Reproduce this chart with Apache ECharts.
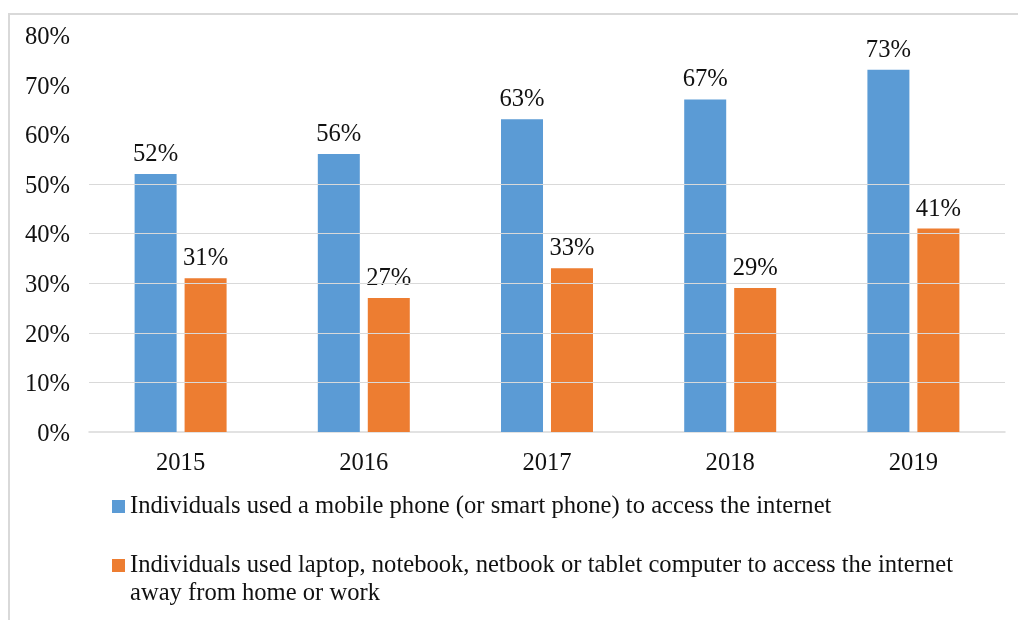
<!DOCTYPE html>
<html>
<head>
<meta charset="utf-8">
<script src="https://cdn.jsdelivr.net/npm/echarts@6/dist/echarts.min.js"></script>
<style>
html,body{margin:0;padding:0;background:#fff;}
#chart{width:1018px;height:620px;}
</style>
</head>
<body>
<div id="chart"></div>
<script>
const categories = ['2015', '2016', '2017', '2018', '2019'];
const mobileValues = [52, 56, 63, 67, 73];
const laptopValues = [31, 27, 33, 29, 41];
const seriesNames = [
  'Individuals used a mobile phone (or smart phone) to access the internet',
  'Individuals used laptop, notebook, netbook or tablet computer to access the internet away from home or work'
];
const laptopLegendLines = [
  'Individuals used laptop, notebook, netbook or tablet computer to access the internet',
  'away from home or work'
];
// gridlines visible in the reference (upper ones are absent)
const gridlineValues = [10, 20, 30, 40, 50];

const FONT = "'Liberation Serif', 'Times New Roman', serif";
const FS = 24.6;
const TXT = '#111';
const GRID = '#d9d9d9';

const chart = echarts.init(document.getElementById('chart'), null, {renderer: 'canvas'});

chart.setOption({
  animation: false,
  backgroundColor: '#fff',
  textStyle: {fontFamily: FONT, color: TXT},
  graphic: [{
    type: 'rect',
    shape: {x: 9, y: 14, width: 1040, height: 700},
    style: {fill: 'none', stroke: GRID, lineWidth: 2},
    silent: true,
    z: -1
  }],
  grid: {left: 89, right: 13, top: 35, bottom: 188, containLabel: false},
  legend: [{
    data: [seriesNames[0]],
    orient: 'vertical',
    left: 112, top: 490,
    padding: 0,
    itemWidth: 13, itemHeight: 13, itemGap: 0, textGap: 5,
    icon: 'rect',
    selectedMode: false,
    textStyle: {fontFamily: FONT, fontSize: FS, color: TXT, lineHeight: 28, padding: [5, 0, 0, 0]}
  }, {
    data: [seriesNames[1]],
    orient: 'vertical',
    left: 112, top: 521,
    padding: 0,
    itemWidth: 13, itemHeight: 13, itemGap: 0, textGap: 5,
    icon: 'rect',
    selectedMode: false,
    formatter: function () { return '\n' + laptopLegendLines.join('\n'); },
    textStyle: {fontFamily: FONT, fontSize: FS, color: TXT, lineHeight: 28, padding: [5, 0, 0, 0]}
  }],
  xAxis: {
    type: 'category',
    data: categories,
    axisLine: {show: true, lineStyle: {color: GRID, width: 1.5}},
    axisTick: {show: false},
    axisLabel: {fontFamily: FONT, fontSize: FS, color: TXT, margin: 19}
  },
  yAxis: {
    type: 'value',
    min: 0, max: 80, interval: 10,
    axisLine: {show: false},
    axisTick: {show: false},
    splitLine: {show: false},
    axisLabel: {
      color: TXT, margin: 19,
      formatter: '{p|{value}%}',
      rich: {p: {fontFamily: FONT, fontSize: FS, color: TXT, padding: [5, 0, 0, 0]}}
    }
  },
  series: [{
    name: 'gridlines',
    type: 'line',
    data: [],
    z: 0,
    silent: true,
    markLine: {
      silent: true,
      symbol: ['none', 'none'],
      label: {show: false},
      lineStyle: {color: GRID, width: 1, type: 'solid'},
      emphasis: {disabled: true},
      animation: false,
      data: gridlineValues.map(v => ({yAxis: v}))
    }
  }, {
    name: seriesNames[0],
    type: 'bar',
    data: mobileValues,
    z: 2,
    barWidth: 42,
    barGap: '19%',
    itemStyle: {color: '#5b9bd5'},
    label: {show: true, position: 'top', distance: 7, formatter: '{c}%', fontFamily: FONT, fontSize: FS, color: TXT}
  }, {
    name: seriesNames[1],
    type: 'bar',
    data: laptopValues,
    z: 2,
    barWidth: 42,
    barGap: '19%',
    itemStyle: {color: '#ed7d31'},
    label: {show: true, position: 'top', distance: 7, formatter: '{c}%', fontFamily: FONT, fontSize: FS, color: TXT}
  }]
});
</script>
</body>
</html>
